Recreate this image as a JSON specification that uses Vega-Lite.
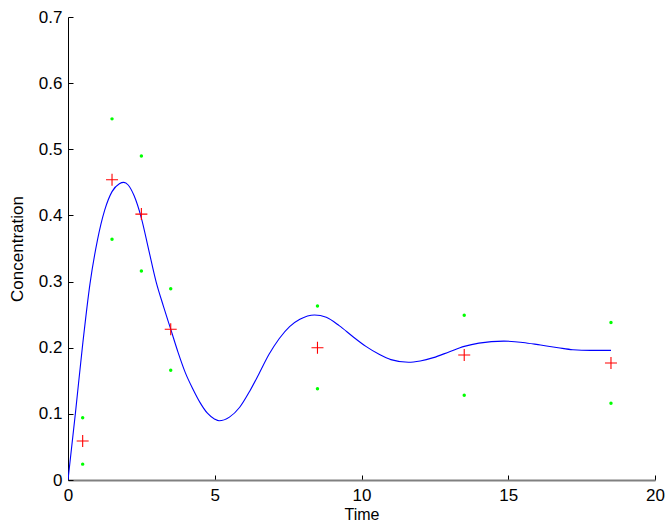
{
  "$schema": "https://vega.github.io/schema/vega-lite/v6.json",
  "autosize": "none",
  "width": 587,
  "height": 463,
  "padding": {"left": 68, "top": 17, "right": 12, "bottom": 45},
  "background": "white",
  "config": {"view": {"stroke": null}, "font": "Liberation Sans"},
  "datasets": {
    "curve": [
      {"t": 0, "c": 0}, {"t": 0.25, "c": 0.1}, {"t": 0.5, "c": 0.205}, {"t": 0.75, "c": 0.297},
      {"t": 1.0, "c": 0.362}, {"t": 1.25, "c": 0.408}, {"t": 1.5, "c": 0.436}, {"t": 1.75, "c": 0.448},
      {"t": 1.9, "c": 0.45}, {"t": 2.05, "c": 0.446}, {"t": 2.25, "c": 0.43}, {"t": 2.5, "c": 0.396},
      {"t": 2.75, "c": 0.348}, {"t": 3.0, "c": 0.3}, {"t": 3.25, "c": 0.263}, {"t": 3.5, "c": 0.228},
      {"t": 3.75, "c": 0.193}, {"t": 4.0, "c": 0.162}, {"t": 4.25, "c": 0.138}, {"t": 4.5, "c": 0.117},
      {"t": 4.75, "c": 0.101}, {"t": 5.0, "c": 0.092}, {"t": 5.15, "c": 0.0895}, {"t": 5.5, "c": 0.095},
      {"t": 5.85, "c": 0.11}, {"t": 6.2, "c": 0.135}, {"t": 6.5, "c": 0.16}, {"t": 6.85, "c": 0.19},
      {"t": 7.2, "c": 0.214}, {"t": 7.55, "c": 0.232}, {"t": 7.9, "c": 0.243}, {"t": 8.4, "c": 0.2495},
      {"t": 8.8, "c": 0.246}, {"t": 9.25, "c": 0.233}, {"t": 9.7, "c": 0.217}, {"t": 10.15, "c": 0.202},
      {"t": 10.6, "c": 0.19}, {"t": 11.0, "c": 0.182}, {"t": 11.6, "c": 0.178}, {"t": 12.0, "c": 0.18},
      {"t": 12.45, "c": 0.185}, {"t": 13.0, "c": 0.194}, {"t": 13.5, "c": 0.202}, {"t": 14.0, "c": 0.207},
      {"t": 14.85, "c": 0.21}, {"t": 15.5, "c": 0.208}, {"t": 16.1, "c": 0.204}, {"t": 16.7, "c": 0.2},
      {"t": 17.2, "c": 0.197}, {"t": 17.8, "c": 0.196}, {"t": 18.5, "c": 0.196}
    ],
    "obs": [
      {"t": 0.5, "c": 0.059}, {"t": 1.5, "c": 0.454}, {"t": 2.5, "c": 0.402}, {"t": 3.5, "c": 0.228},
      {"t": 8.5, "c": 0.2}, {"t": 13.5, "c": 0.189}, {"t": 18.5, "c": 0.177}
    ],
    "bounds": [
      {"t": 0.5, "c": 0.094}, {"t": 0.5, "c": 0.024},
      {"t": 1.5, "c": 0.546}, {"t": 1.5, "c": 0.364},
      {"t": 2.5, "c": 0.49}, {"t": 2.5, "c": 0.316},
      {"t": 3.5, "c": 0.289}, {"t": 3.5, "c": 0.166},
      {"t": 8.5, "c": 0.263}, {"t": 8.5, "c": 0.138},
      {"t": 13.5, "c": 0.249}, {"t": 13.5, "c": 0.128},
      {"t": 18.5, "c": 0.238}, {"t": 18.5, "c": 0.116}
    ]
  },
  "encoding": {
    "x": {
      "field": "t", "type": "quantitative",
      "scale": {"domain": [0, 20], "nice": false, "zero": false},
      "axis": {
        "title": "Time", "titleFontSize": 16, "titleFontWeight": "normal", "titleColor": "#000", "titlePadding": 3,
        "values": [0, 5, 10, 15, 20], "labelFontSize": 17, "labelColor": "#000", "labelPadding": 12,
        "tickSize": -5, "tickColor": "#000", "domainColor": "#808080", "domainWidth": 2, "grid": false, "labelFlush": false
      }
    },
    "y": {
      "field": "c", "type": "quantitative",
      "scale": {"domain": [0, 0.7], "nice": false},
      "axis": {
        "title": "Concentration", "titleFontSize": 17, "titleFontWeight": "normal", "titleColor": "#000", "titlePadding": 12,
        "values": [0, 0.1, 0.2, 0.3, 0.4, 0.5, 0.6, 0.7],
        "labelExpr": "datum.value == 0 ? '0' : format(datum.value, '.1f')",
        "labelFontSize": 17, "labelColor": "#000", "labelPadding": 11,
        "tickSize": -5, "tickColor": "#000", "domainColor": "#000", "grid": false, "labelFlush": false
      }
    }
  },
  "layer": [
    {"data": {"name": "curve"}, "mark": {"type": "line", "color": "#0000ff", "strokeWidth": 1.1, "interpolate": "monotone", "clip": true}},
    {"data": {"name": "obs"}, "mark": {"type": "point", "shape": "M-1,0H1M0,-1V1", "size": 144, "filled": false, "stroke": "#ff0000", "strokeWidth": 1.1, "opacity": 1}},
    {"data": {"name": "bounds"}, "mark": {"type": "circle", "size": 12, "color": "#00ff00", "opacity": 1}}
  ]
}
